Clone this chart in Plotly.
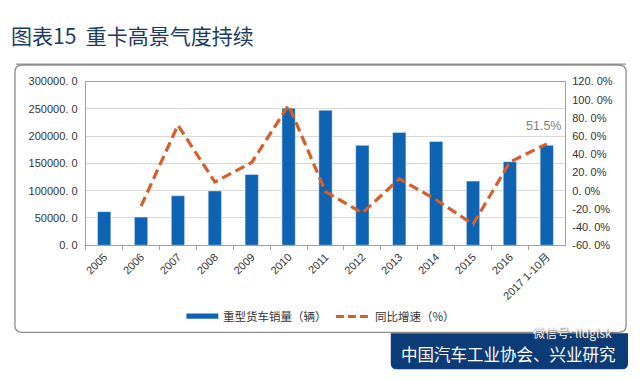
import plotly.graph_objects as go

W, H = 640, 381

categories = ["2005", "2006", "2007", "2008", "2009", "2010", "2011", "2012",
              "2013", "2014", "2015", "2016", "2017 1-10月"]
sales = [61500, 51500, 90500, 99500, 129500, 251000, 247500, 183000,
         206500, 190000, 117500, 153000, 183000]
growth = [None, -17.0, 72.0, 9.5, 31.0, 94.0, -1.0, -24.5, 13.0, -10.0, -37.0, 31.5, 51.5]

left_ticks = [0, 50000, 100000, 150000, 200000, 250000, 300000]
left_labels = ["0. 0", "50000. 0", "100000. 0", "150000. 0", "200000. 0", "250000. 0", "300000. 0"]
right_ticks = [-60, -40, -20, 0, 20, 40, 60, 80, 100, 120]
right_labels = ["-60. 0%", "-40. 0%", "-20. 0%", "0. 0%", "20. 0%", "40. 0%", "60. 0%",
                "80. 0%", "100. 0%", "120. 0%"]

bar_name = "重型货车销量（辆）"
line_name = "同比增速（%）"
title_text = "图表15  重卡高景气度持续"
source_text = "中国汽车工业协会、兴业研究"
watermark_text = "微信号: lldglsk"
last_label = "51.5%"

BLUE = "#0e63b3"
ORANGE = "#d55f2a"
NAVY = "#0b3c78"
NUMFONT = "Liberation Sans, Noto Sans CJK SC, sans-serif"
CJK = "Noto Sans CJK SC, sans-serif"


def px(x):
    return x / W


def py(y):
    return (H - y) / H


def rounded_rect(x0, y0, x1, y1, r, top=True, bottom=True):
    rt = r if top else 0
    rb = r if bottom else 0
    pts = []
    pts.append(f"M {px(x0 + rt)},{py(y0)}")
    pts.append(f"L {px(x1 - rt)},{py(y0)}")
    if rt:
        pts.append(f"Q {px(x1)},{py(y0)} {px(x1)},{py(y0 + rt)}")
    pts.append(f"L {px(x1)},{py(y1 - rb)}")
    if rb:
        pts.append(f"Q {px(x1)},{py(y1)} {px(x1 - rb)},{py(y1)}")
    pts.append(f"L {px(x0 + rb)},{py(y1)}")
    if rb:
        pts.append(f"Q {px(x0)},{py(y1)} {px(x0)},{py(y1 - rb)}")
    pts.append(f"L {px(x0)},{py(y0 + rt)}")
    if rt:
        pts.append(f"Q {px(x0)},{py(y0)} {px(x0 + rt)},{py(y0)}")
    pts.append("Z")
    return " ".join(pts)


fig = go.Figure()
fig.add_trace(go.Bar(x=categories, y=sales, name=bar_name, marker_color=BLUE,
                     width=0.36, showlegend=False))
fig.add_trace(go.Scatter(x=categories, y=growth, name=line_name, yaxis="y2",
                         mode="lines", line=dict(color=ORANGE, width=3.2, dash="10px,5px"),
                         connectgaps=False, showlegend=False))

shapes = [
    # chart frame
    dict(type="path", xref="paper", yref="paper", path=rounded_rect(13, 61, 626, 337, 7),
         line=dict(color="#8c8c8c", width=1.3), fillcolor="rgba(0,0,0,0)", layer="below"),
    # title underline
    dict(type="line", xref="paper", yref="paper", x0=px(14), x1=px(626), y0=py(60), y1=py(60),
         line=dict(color="#6f6f6f", width=1)),
    # source box
    dict(type="path", xref="paper", yref="paper", path=rounded_rect(390, 338, 628, 375, 6, top=False),
         line=dict(color=NAVY, width=0), fillcolor=NAVY),
    # legend symbols
    dict(type="rect", xref="paper", yref="paper", x0=px(185), x1=px(217), y0=py(323), y1=py(317.5),
         line=dict(width=0), fillcolor=BLUE),
    dict(type="line", xref="paper", yref="paper", x0=px(335), x1=px(368), y0=py(320.5), y1=py(320.5),
         line=dict(color=ORANGE, width=3, dash="8px,4px")),
]

annotations = [
    dict(text=title_text, xref="paper", yref="paper", x=px(7), y=py(30), xanchor="left",
         yanchor="middle", showarrow=False,
         font=dict(family=CJK, size=21, color="#1d3b5e")),
    dict(text=bar_name, xref="paper", yref="paper", x=px(220), y=py(320.5), xanchor="left",
         yanchor="middle", showarrow=False, font=dict(family=CJK, size=11.5, color="#333333")),
    dict(text=line_name, xref="paper", yref="paper", x=px(372), y=py(320.5), xanchor="left",
         yanchor="middle", showarrow=False, font=dict(family=CJK, size=11.5, color="#333333")),
    dict(text=source_text, xref="paper", yref="paper", x=px(508), y=py(359), xanchor="center",
         yanchor="middle", showarrow=False, font=dict(family=CJK, size=16.5, color="white")),
    dict(text=watermark_text, xref="paper", yref="paper", x=px(572), y=py(337), xanchor="center",
         yanchor="middle", showarrow=False,
         font=dict(family=CJK, size=12, color="rgba(255,255,255,0.95)", shadow="1px 1px 2px #444")),
    dict(text=last_label, x=categories[-1], y=growth[-1], xref="x", yref="y2",
         xanchor="center", yanchor="bottom", yshift=9, xshift=-3, showarrow=False,
         font=dict(family=NUMFONT, size=12.5, color="#7f7f7f")),
]

fig.update_layout(
    width=W, height=H,
    margin=dict(l=0, r=0, t=0, b=0),
    paper_bgcolor="white", plot_bgcolor="white",
    bargap=0.5,
    xaxis=dict(domain=[px(84), px(565)], type="category", tickangle=-45,
               tickfont=dict(family=NUMFONT, size=11, color="#333333"),
               showline=True, linecolor="#a0a0a0", linewidth=1, mirror=True,
               ticks="outside", ticklen=4, tickcolor="#a0a0a0", tickson="boundaries",
               showgrid=False),
    yaxis=dict(domain=[py(247), py(78)], range=[0, 300000], tickvals=left_ticks,
               ticktext=left_labels, tickfont=dict(family=NUMFONT, size=11, color="#333333"),
               showgrid=True, gridcolor="#d9d9d9", gridwidth=1, zeroline=False,
               showline=True, linecolor="#a0a0a0", mirror=True, ticks="",
               ticklabelstandoff=5),
    yaxis2=dict(overlaying="y", side="right", range=[-60, 120], tickvals=right_ticks,
                ticktext=right_labels, tickfont=dict(family=NUMFONT, size=11, color="#333333"),
                showgrid=False, zeroline=False, ticks="", ticklabelstandoff=6),
    shapes=shapes,
    annotations=annotations,
)

fig.write_html("out.html", config={"displayModeBar": False},
               post_script="document.body.style.margin='0';document.body.style.padding='0';")
